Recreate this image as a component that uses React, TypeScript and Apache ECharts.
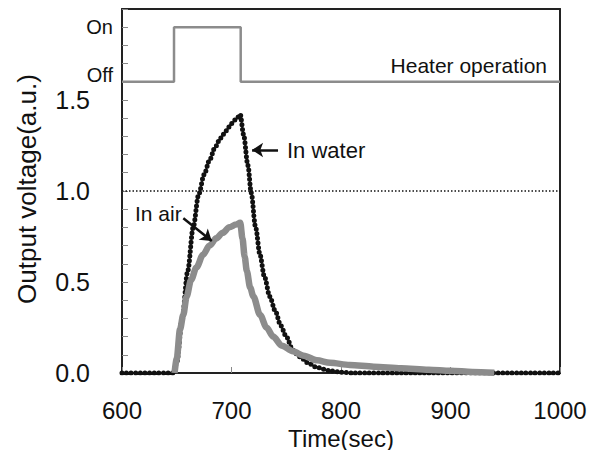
import React, { useEffect, useRef } from "react";
import * as echarts from "echarts";

// Time (sec) and output voltage (a.u.)
const waterTime = [600, 647, 650, 655, 660, 665, 670, 675, 680, 685, 690, 695, 700, 705, 708, 711, 715, 718, 722, 726, 730, 735, 740, 745, 750, 756, 762, 770, 778, 790, 800, 810, 1000];
const waterVolt = [0, 0, 0.06, 0.3, 0.56, 0.8, 0.98, 1.09, 1.17, 1.24, 1.29, 1.33, 1.37, 1.4, 1.42, 1.31, 1.14, 0.99, 0.8, 0.65, 0.53, 0.42, 0.34, 0.26, 0.2, 0.125, 0.09, 0.055, 0.03, 0.012, 0.004, 0, 0];

const airTime = [648, 650, 653, 656, 659, 663, 668, 674, 680, 686, 692, 698, 704, 708, 710, 712, 714, 717, 720, 726, 732, 738, 746, 756, 766, 778, 790, 808, 830, 855, 880, 900, 920, 940];
const airVolt = [0, 0.08, 0.24, 0.32, 0.42, 0.51, 0.58, 0.65, 0.7, 0.74, 0.77, 0.8, 0.815, 0.825, 0.74, 0.64, 0.56, 0.47, 0.42, 0.32, 0.25, 0.2, 0.15, 0.12, 0.095, 0.07, 0.056, 0.044, 0.035, 0.026, 0.018, 0.012, 0.006, 0.002];

// Heater state: 0 = Off, 3 = On
const heaterTime = [600, 647.5, 647.5, 708.4, 708.4, 1000];
const heaterState = [0, 0, 3, 3, 0, 0];

const xMin = 600;
const xMax = 1000;
const xStep = 100;
const yMax = 1.6;
const yStep = 0.1;
const yLabelEvery = 0.5;

const heaterLabels: Record<number, string> = { 0: "Off", 3: "On" };

// annotation arrows [time, volt] -> [time, volt]
const waterArrow = [[742.5, 1.225], [718.8, 1.225]];
const airArrow = [[656, 0.85], [682, 0.725]];
const refLine = 1.0;

const FONT = "'Liberation Sans', Arial, sans-serif";
const BLACK = "#111111";
const GRAY = "#8c8c8c";
const FRAME = { show: true, onZero: false, lineStyle: { color: "#222", width: 2 } };
const TICK = { show: true, inside: true, length: 6, lineStyle: { color: "#888", width: 1 } };

const zip = (a: number[], b: number[]) => a.map((v, i) => [v, b[i]]);

export default function App() {
  const ref = useRef<HTMLDivElement>(null);
  useEffect(() => {
    if (!ref.current) return;
    const chart = echarts.init(ref.current, undefined, { renderer: "svg" });
    const water = zip(waterTime, waterVolt);
    const air = zip(airTime, airVolt);
    const heater = zip(heaterTime, heaterState);
    const frameOnly = {
      axisLine: FRAME, axisTick: { show: false }, axisLabel: { show: false }, splitLine: { show: false },
    };
    chart.setOption({
      animation: false,
      backgroundColor: "#ffffff",
      grid: [
        { left: 122, right: 39, top: 9, height: 72.7, outerBoundsMode: "none", containLabel: false },
        { left: 122, right: 39, top: 81.7, bottom: 77, outerBoundsMode: "none", containLabel: false },
      ],
      xAxis: [
        { gridIndex: 0, type: "value", min: xMin, max: xMax, interval: xStep, position: "top", ...frameOnly },
        {
          gridIndex: 1, type: "value", min: xMin, max: xMax, interval: xStep, position: "bottom",
          axisLine: FRAME,
          axisTick: TICK,
          splitLine: { show: false },
          axisLabel: {
            margin: 25, fontSize: 24, color: BLACK, fontFamily: FONT, showMinLabel: true, showMaxLabel: true,
            formatter: (v: number) => String(v),
          },
          name: "Time(sec)", nameLocation: "middle", nameGap: 53, nameMoveOverlap: false,
          nameTextStyle: { fontSize: 24, color: BLACK, fontFamily: FONT },
        },
      ],
      yAxis: [
        {
          gridIndex: 0, type: "value", min: 0, max: 4, interval: 1, position: "left",
          axisLine: FRAME,
          axisTick: TICK,
          splitLine: { show: false },
          axisLabel: {
            margin: 9, fontSize: 20, color: BLACK, fontFamily: FONT,
            formatter: (v: number) => (heaterLabels[v] === "Off" ? "{off|Off}" : heaterLabels[v] || ""),
            rich: { off: { fontSize: 20, color: BLACK, fontFamily: FONT, padding: [0, 0, 13, 0] } },
          },
        },
        {
          gridIndex: 1, type: "value", min: 0, max: yMax, interval: yStep, position: "left",
          axisLine: FRAME,
          axisTick: TICK,
          splitLine: { show: false },
          axisLabel: {
            margin: 32, fontSize: 25, color: BLACK, fontFamily: FONT,
            formatter: (v: number) => (Math.round(v / yStep) % Math.round(yLabelEvery / yStep) === 0 ? v.toFixed(1) : ""),
          },
        },
        { gridIndex: 0, type: "value", min: 0, max: 4, position: "right", ...frameOnly },
        { gridIndex: 1, type: "value", min: 0, max: yMax, position: "right", ...frameOnly },
      ],
      series: [
        {
          type: "line", xAxisIndex: 0, yAxisIndex: 0, data: heater, symbol: "none",
          lineStyle: { color: GRAY, width: 2.5 }, z: 5,
        },
        {
          type: "line", xAxisIndex: 1, yAxisIndex: 1, data: water, symbol: "none",
          smooth: 0.3, smoothMonotone: "x",
          lineStyle: { color: BLACK, width: 1.5 }, z: 3,
          markLine: {
            silent: true, symbol: ["none", "arrow"], symbolSize: 11,
            label: { show: false },
            lineStyle: { color: BLACK, width: 2.5, type: "solid" },
            data: [[{ coord: waterArrow[0] }, { coord: waterArrow[1] }]],
          },
        },
        {
          type: "line", xAxisIndex: 1, yAxisIndex: 1, data: water, symbol: "none",
          smooth: 0.3, smoothMonotone: "x",
          lineStyle: { color: BLACK, width: 5, type: [0, 4.6], cap: "round" }, z: 3,
          markLine: {
            silent: true, symbol: ["none", "none"],
            label: { show: false },
            lineStyle: { color: BLACK, width: 1.5, type: [1.5, 2] },
            data: [{ yAxis: refLine }],
          },
        },
        {
          type: "line", xAxisIndex: 1, yAxisIndex: 1, data: air, symbol: "none",
          smooth: 0.3, smoothMonotone: "x",
          lineStyle: { color: GRAY, width: 6.5 }, z: 4,
          markLine: {
            silent: true, symbol: ["none", "arrow"], symbolSize: 11,
            label: { show: false },
            lineStyle: { color: BLACK, width: 2.5, type: "solid" },
            data: [[{ coord: airArrow[0] }, { coord: airArrow[1] }]],
          },
        },
      ],
      graphic: [
        {
          type: "text", x: 27, y: 189, rotation: Math.PI / 2,
          style: { text: "Output voltage(a.u.)", fontSize: 26, fill: BLACK, fontFamily: FONT, align: "center", verticalAlign: "middle" },
        },
        {
          type: "text", x: 547, y: 65,
          style: { text: "Heater operation", fontSize: 21, fill: BLACK, fontFamily: FONT, align: "right", verticalAlign: "middle" },
        },
        {
          type: "text", x: 287, y: 150,
          style: { text: "In water", fontSize: 22, fill: BLACK, fontFamily: FONT, align: "left", verticalAlign: "middle" },
        },
        {
          type: "text", x: 135, y: 213,
          style: { text: "In air", fontSize: 21, fill: BLACK, fontFamily: FONT, align: "left", verticalAlign: "middle" },
        },
      ],
    });
    return () => chart.dispose();
  }, []);
  return <div ref={ref} style={{ width: 599, height: 450, position: "absolute", left: 0, top: 0 }} />;
}
